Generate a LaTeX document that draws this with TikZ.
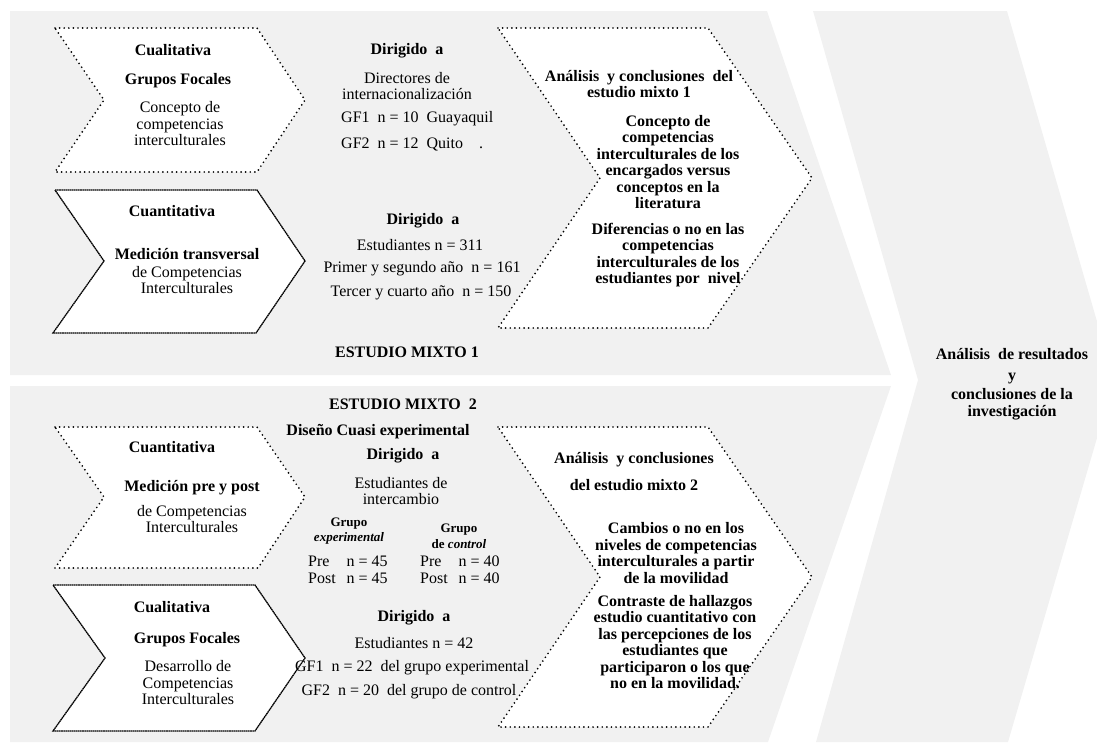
\documentclass[tikz,border=0pt]{standalone}
\usepackage{fontspec}
\setmainfont{Liberation Serif}
\usetikzlibrary{positioning}
\definecolor{bandgray}{HTML}{F1F1F1}

\begin{document}
\begin{tikzpicture}[
        x=1pt, y=-1pt,
        txt/.style={
            font=\fontsize{16}{16.5}\selectfont,
            align=center,
            inner sep=0pt
        },
        head/.style={
            txt,
            font=\fontsize{16}{16.5}\selectfont\bfseries
        },
        small/.style={
            txt,
            font=\fontsize{13}{15.5}\selectfont\bfseries
        },
        count/.style={
            txt,
            anchor=west
        },
        band/.style={
            fill=bandgray,
            draw=none
        },
        dotbox/.style={
            fill=white,
            draw=black,
            line width=1.9pt,
            line cap=round,
            dash pattern=on 0pt off 4.6pt
        },
        solidbox/.style={
            fill=white,
            draw=black,
            line width=1.3pt,
            dash pattern=on 1.6pt off 0.5pt
        }
    ]

    \useasboundingbox (0,0) rectangle (1097,745);

    % Bands
    \fill[band] (10,11) -- (767,11) -- (891,375) -- (10,375) -- cycle;
    \fill[band] (10,386) -- (891,386) -- (768,742) -- (10,742) -- cycle;
    \fill[band] (813,11) -- (1007,11) -- (1114,380) -- (1008,742) -- (816,742) -- (918,380) -- cycle;

    % Chevrons
    \draw[dotbox] (55,28) -- (257,28) -- (305,100) -- (257,172) -- (55,172) -- (104,100) -- cycle;
    \draw[solidbox] (55,190) -- (257,190) -- (305,261) -- (256,333) -- (53,333) -- (104,261) -- cycle;
    \draw[dotbox] (498,28) -- (708,28) -- (812,178) -- (708,328) -- (498,328) -- (600,178) -- cycle;
    \draw[dotbox] (55,427) -- (257,427) -- (305,497) -- (258,568) -- (55,568) -- (104,497) -- cycle;
    \draw[solidbox] (53,585) -- (255,585) -- (305,658) -- (255,731) -- (53,731) -- (105,658) -- cycle;
    \draw[dotbox] (498,427) -- (708,427) -- (812,577) -- (708,727) -- (498,727) -- (600,577) -- cycle;

    % Estudio mixto 1
    \node[head] (cual1) at (173,50) {Cualitativa};
    \node[head] (focal1) at (178,81) {Grupos Focales};
    \node[txt] (concepto) at (180,124) {Concepto de\\competencias\\interculturales};

    \node[head] (dir1) at (407,51) {Dirigido\ \ a};
    \node[txt] (directores) at (407,86) {Directores de\\internacionalización};
    \node[count] (gf1) at (341,119) {GF1\ \ n = 10\ \ Guayaquil};
    \node[count] (gf2) at (341,144) {GF2\ \ n = 12\ \ Quito\hspace{1em}.};

    \node[head] (cuan1) at (172,211) {Cuantitativa};
    \node[head] (transv) at (187,254) {Medición transversal};
    \node[txt] (comp1) at (187,280) {de Competencias\\Interculturales};

    \node[head] (dir2) at (423,221) {Dirigido\ \ a};
    \node[txt] (est1) at (420,245) {Estudiantes n = 311};
    \node[txt] (primer) at (422,269) {Primer y segundo año\ \ n = 161};
    \node[txt] (tercer) at (421,293) {Tercer y cuarto año\ \ n = 150};

    \node[head] (anal1) at (639,84) {Análisis\ \ y conclusiones\ \ del\\estudio mixto 1};
    \node[head] (concl1) at (668,162) {Concepto de\\competencias\\interculturales de los\\encargados versus\\conceptos en la\\literatura};
    \node[head] (dif1) at (668,255) {Diferencias o no en las\\competencias\\interculturales de los\\estudiantes por\ \ nivel};

    \node[head] (mixto1) at (407,352) {ESTUDIO MIXTO 1};

    % Estudio mixto 2
    \node[head] (mixto2) at (403,404) {ESTUDIO MIXTO\ \ 2};
    \node[head] (diseno) at (378,432) {Diseño Cuasi experimental};

    \node[head] (cuan2) at (172,447) {Cuantitativa};
    \node[head] (prepost) at (192,488) {Medición pre y post};
    \node[txt] (comp2) at (192,519) {de Competencias\\Interculturales};

    \node[head] (dir3) at (403,456) {Dirigido\ \ a};
    \node[txt] (interc) at (401,491) {Estudiantes de\\intercambio};
    \node[small] (gexp) at (349,531) {Grupo\\\textit{experimental}};
    \node[small] (gcon) at (459,536) {Grupo\\de \textit{control}};
    \node[count] (pre1) at (308,561) {\makebox[2.4em][l]{Pre}n = 45};
    \node[count] (post1) at (308,578) {\makebox[2.4em][l]{Post}n = 45};
    \node[count] (pre2) at (420,561) {\makebox[2.4em][l]{Pre}n = 40};
    \node[count] (post2) at (420,578) {\makebox[2.4em][l]{Post}n = 40};

    \node[head] (cual2) at (172,607) {Cualitativa};
    \node[head] (focal2) at (187,640) {Grupos Focales};
    \node[txt] (desarrollo) at (188,683) {Desarrollo de\\Competencias\\Interculturales};

    \node[head] (dir4) at (414,618) {Dirigido\ \ a};
    \node[txt] (est2) at (414,643) {Estudiantes n = 42};
    \node[txt] (gf3) at (412,668) {GF1\ \ n = 22\ \ del grupo experimental};
    \node[txt] (gf4) at (409,692) {GF2\ \ n = 20\ \ del grupo de control};

    \node[head] (anal2a) at (634,460) {Análisis\ \ y conclusiones};
    \node[head] (anal2b) at (634,485) {del estudio mixto 2};
    \node[head] (cambios) at (676,553) {Cambios o no en los\\niveles de competencias\\interculturales a partir\\de la movilidad};
    \node[head] (contraste) at (675,642) {Contraste de hallazgos\\estudio cuantitativo con\\las percepciones de los\\estudiantes que\\participaron o los que\\no en la movilidad.};

    % Final
    \node[head] (final) at (1012,384) {Análisis\ \ de resultados\\[4pt]y\\[3pt]conclusiones de la\\investigación};

\end{tikzpicture}
\end{document}
